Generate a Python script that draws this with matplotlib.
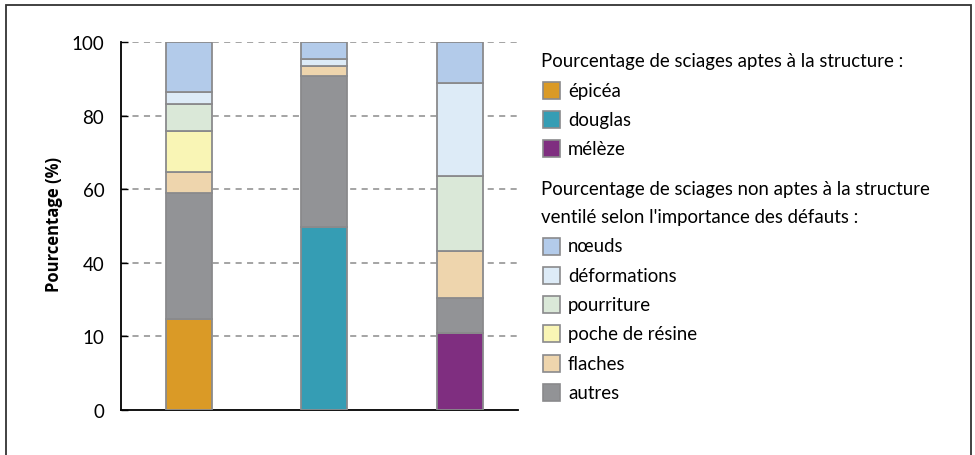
import matplotlib
matplotlib.use("Agg")
import matplotlib.pyplot as plt
from matplotlib.patches import Rectangle
import numpy as np

plt.rcParams['font.family'] = ['Lato', 'DejaVu Sans']

# ---- data ----
species = ["épicéa", "douglas", "mélèze"]
apte = [24.8, 49.7, 21.0]
defect_names = ["autres", "flaches", "poche de résine", "pourriture", "déformations", "nœuds"]
autres = [34.1, 41.1, 9.3]
flaches = [5.9, 2.6, 12.9]
poche = [10.9, 0.0, 0.0]
pourriture = [7.5, 0.0, 20.3]
deformations = [3.2, 2.0, 25.4]
noeuds = [13.6, 4.6, 11.1]
ytick_values = [0, 20, 40, 60, 80, 100]
ytick_labels = ["0", "10", "40", "60", "80", "100"]

species_colors = ["#DA9A26", "#359DB4", "#7F2E80"]
defect_colors = ["#929396", "#EED5AD", "#F9F5B5", "#DAE8D8", "#DDEBF7", "#B3CBEA"]
edge = "#8A8A8C"

W, H = 975, 456
fig = plt.figure(figsize=(W / 100, H / 100), dpi=100)
ax = fig.add_axes([121 / W, 1 - 411 / H, (518 - 121) / W, (411 - 43) / H])

x = np.arange(len(species))
bw = 0.34
ax.bar(x, apte, bw, color=species_colors, edgecolor=edge, linewidth=1.3, zorder=3)
bottom = np.array(apte, dtype=float)
for vals, col in zip([autres, flaches, poche, pourriture, deformations, noeuds], defect_colors):
    v = np.array(vals, dtype=float)
    mask = v > 0
    ax.bar(x[mask], v[mask], bw, bottom=bottom[mask], color=col, edgecolor=edge,
           linewidth=1.3, zorder=3)
    bottom += v

ax.set_xlim(-0.5, 2.43)
ax.set_ylim(0, 100)
ax.set_xticks([])
ax.set_yticks(ytick_values)
ax.set_yticklabels(ytick_labels, fontsize=13.5)
ax.tick_params(axis='y', direction='in', length=5, width=1, pad=12, colors='black')
for v in ytick_values[1:]:
    ax.axhline(v, color="#8C8C8C", linewidth=1.1, linestyle=(0, (4, 3.5)), zorder=1)
for s in ['top', 'right']:
    ax.spines[s].set_visible(False)
for s in ['left', 'bottom']:
    ax.spines[s].set_linewidth(1.3)
    ax.spines[s].set_color('black')
ax.set_ylabel("Pourcentage (%)", fontsize=12, fontweight='bold', family=['Open Sans', 'DejaVu Sans'])
ax.yaxis.set_label_coords(-0.146, 0.508)

# ---- outer frame ----
fig.add_artist(Rectangle((6 / W, -0.05), (971 - 6) / W, 1.05 - 6 / H, transform=fig.transFigure,
                         fill=False, edgecolor="#333333", linewidth=1.3))

# ---- manual legend ----
fs = 13.4
def ftext(px, py, s):
    fig.text(px / W, 1 - py / H, s, fontsize=fs, va='center', ha='left')

def fpatch(py, col):
    fig.add_artist(Rectangle((543 / W, 1 - (py + 8.5) / H), 17 / W, 17 / H,
                             transform=fig.transFigure, facecolor=col, edgecolor=edge,
                             linewidth=1.2))

ftext(541, 61, "Pourcentage de sciages aptes à la structure :")
for i, (name, col) in enumerate(zip(species, species_colors)):
    py = 91 + i * 29.3
    fpatch(py, col)
    ftext(568, py, name)

ftext(541, 189, "Pourcentage de sciages non aptes à la structure")
ftext(541, 218, "ventilé selon l'importance des défauts :")
for i, (name, col) in enumerate(zip(defect_names[::-1], defect_colors[::-1])):
    py = 247 + i * 29.3
    fpatch(py, col)
    ftext(568, py, name)

fig.savefig("out.png", dpi=100)
